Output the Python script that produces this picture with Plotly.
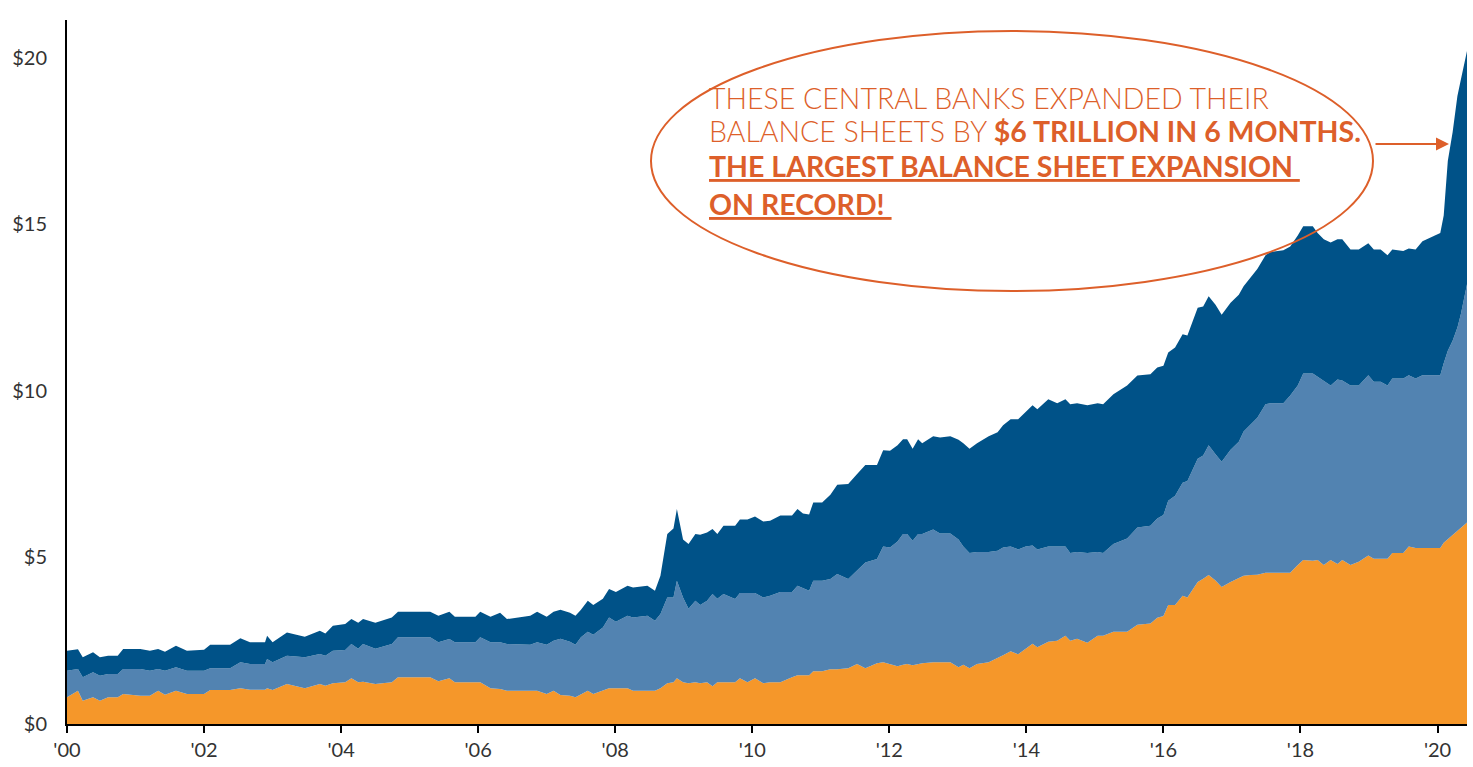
import plotly.graph_objects as go

# Combined central bank balance sheets, trillions of US dollars.
# Each list holds the upper edge of a band (cumulative), sampled at decimal years.
years = [
    2000.00, 2000.16, 2000.23, 2000.38, 2000.48, 2000.60, 2000.74, 2000.82, 2001.07, 2001.21,
    2001.33, 2001.43, 2001.59, 2001.75, 2002.00, 2002.09, 2002.38, 2002.53, 2002.67, 2002.89,
    2002.92, 2003.00, 2003.21, 2003.47, 2003.69, 2003.77, 2003.88, 2004.06, 2004.15, 2004.25,
    2004.32, 2004.50, 2004.74, 2004.83, 2005.30, 2005.42, 2005.58, 2005.66, 2005.96, 2006.03,
    2006.18, 2006.32, 2006.42, 2006.76, 2006.86, 2007.00, 2007.10, 2007.20, 2007.34, 2007.42,
    2007.50, 2007.60, 2007.68, 2007.82, 2007.91, 2008.01, 2008.18, 2008.26, 2008.47, 2008.58,
    2008.66, 2008.76, 2008.85, 2008.90, 2008.99, 2009.07, 2009.17, 2009.24, 2009.34, 2009.42,
    2009.49, 2009.58, 2009.75, 2009.82, 2009.93, 2010.04, 2010.16, 2010.26, 2010.41, 2010.58,
    2010.66, 2010.74, 2010.83, 2010.89, 2011.02, 2011.14, 2011.24, 2011.40, 2011.53, 2011.65,
    2011.82, 2011.91, 2012.01, 2012.12, 2012.20, 2012.26, 2012.34, 2012.42, 2012.48, 2012.64,
    2012.74, 2012.89, 2013.01, 2013.08, 2013.17, 2013.28, 2013.45, 2013.58, 2013.66, 2013.77,
    2013.88, 2013.99, 2014.09, 2014.16, 2014.32, 2014.45, 2014.57, 2014.64, 2014.74, 2014.89,
    2015.04, 2015.12, 2015.27, 2015.47, 2015.62, 2015.81, 2015.91, 2016.00, 2016.07, 2016.17,
    2016.28, 2016.35, 2016.50, 2016.58, 2016.66, 2016.76, 2016.85, 2016.98, 2017.10, 2017.17,
    2017.27, 2017.37, 2017.49, 2017.56, 2017.75, 2017.85, 2017.96, 2018.04, 2018.18, 2018.25,
    2018.34, 2018.44, 2018.54, 2018.61, 2018.73, 2018.85, 2018.99, 2019.07, 2019.17, 2019.27,
    2019.34, 2019.50, 2019.58, 2019.68, 2019.78, 2019.93, 2020.04, 2020.09, 2020.15, 2020.22,
    2020.29, 2020.34, 2020.43,
]

orange_top = [
    0.80, 1.00, 0.70, 0.80, 0.70, 0.80, 0.80, 0.90, 0.85, 0.85,
    1.00, 0.88, 1.00, 0.90, 0.90, 1.02, 1.02, 1.07, 1.03, 1.03,
    1.07, 1.02, 1.20, 1.07, 1.20, 1.15, 1.22, 1.25, 1.37, 1.25,
    1.27, 1.20, 1.25, 1.40, 1.40, 1.28, 1.37, 1.25, 1.25, 1.25,
    1.07, 1.05, 1.00, 1.00, 1.00, 0.90, 1.00, 0.87, 0.85, 0.80,
    0.90, 1.00, 0.90, 1.00, 1.07, 1.07, 1.07, 1.00, 1.00, 1.00,
    1.07, 1.22, 1.25, 1.37, 1.25, 1.22, 1.25, 1.22, 1.25, 1.13,
    1.25, 1.25, 1.25, 1.37, 1.25, 1.37, 1.22, 1.25, 1.25, 1.40,
    1.46, 1.46, 1.46, 1.58, 1.58, 1.64, 1.64, 1.67, 1.80, 1.67,
    1.82, 1.85, 1.80, 1.73, 1.78, 1.80, 1.76, 1.80, 1.82, 1.85,
    1.85, 1.85, 1.70, 1.78, 1.67, 1.80, 1.85, 1.97, 2.06, 2.18,
    2.09, 2.26, 2.41, 2.30, 2.47, 2.50, 2.65, 2.50, 2.56, 2.44,
    2.65, 2.65, 2.77, 2.77, 2.98, 3.02, 3.19, 3.24, 3.57, 3.57,
    3.85, 3.80, 4.26, 4.36, 4.47, 4.31, 4.11, 4.26, 4.38, 4.45,
    4.47, 4.48, 4.54, 4.54, 4.54, 4.54, 4.77, 4.92, 4.90, 4.92,
    4.77, 4.92, 4.80, 4.92, 4.77, 4.87, 5.06, 4.96, 4.96, 4.96,
    5.13, 5.13, 5.33, 5.28, 5.28, 5.28, 5.28, 5.44, 5.55, 5.66,
    5.80, 5.88, 6.05,
]

middle_top = [
    1.60, 1.65, 1.40, 1.55, 1.45, 1.50, 1.50, 1.65, 1.65, 1.60,
    1.65, 1.60, 1.70, 1.60, 1.60, 1.67, 1.67, 1.85, 1.80, 1.80,
    1.95, 1.85, 2.05, 2.00, 2.10, 2.05, 2.20, 2.22, 2.40, 2.26,
    2.40, 2.26, 2.40, 2.60, 2.60, 2.45, 2.55, 2.45, 2.45, 2.60,
    2.45, 2.45, 2.40, 2.38, 2.45, 2.38, 2.50, 2.56, 2.47, 2.38,
    2.60, 2.77, 2.68, 2.90, 3.20, 3.07, 3.25, 3.20, 3.25, 3.10,
    3.30, 3.80, 3.80, 4.30, 3.80, 3.46, 3.70, 3.57, 3.70, 3.90,
    3.76, 3.90, 3.75, 3.93, 3.93, 3.93, 3.80, 3.85, 3.96, 3.96,
    4.15, 4.08, 4.00, 4.30, 4.30, 4.35, 4.50, 4.35, 4.60, 4.85,
    4.95, 5.33, 5.30, 5.48, 5.70, 5.70, 5.50, 5.70, 5.70, 5.84,
    5.72, 5.72, 5.54, 5.33, 5.13, 5.16, 5.16, 5.20, 5.30, 5.33,
    5.24, 5.33, 5.36, 5.24, 5.33, 5.33, 5.33, 5.13, 5.16, 5.13,
    5.16, 5.13, 5.40, 5.57, 5.90, 5.95, 6.17, 6.27, 6.70, 6.85,
    7.24, 7.29, 7.96, 8.06, 8.37, 8.10, 7.87, 8.23, 8.47, 8.78,
    8.98, 9.19, 9.60, 9.63, 9.63, 9.86, 10.16, 10.52, 10.52, 10.42,
    10.31, 10.16, 10.34, 10.31, 10.16, 10.16, 10.47, 10.27, 10.27, 10.16,
    10.37, 10.37, 10.47, 10.37, 10.47, 10.47, 10.47, 10.83, 11.20, 11.50,
    11.90, 12.30, 13.20,
]

total_top = [
    2.20, 2.24, 2.00, 2.15, 2.00, 2.05, 2.05, 2.25, 2.25, 2.20,
    2.25, 2.17, 2.35, 2.20, 2.23, 2.38, 2.38, 2.57, 2.45, 2.45,
    2.65, 2.45, 2.75, 2.62, 2.80, 2.72, 2.95, 3.00, 3.15, 3.04,
    3.15, 3.04, 3.20, 3.37, 3.37, 3.25, 3.37, 3.22, 3.22, 3.37,
    3.22, 3.34, 3.15, 3.25, 3.37, 3.22, 3.37, 3.43, 3.34, 3.25,
    3.43, 3.70, 3.57, 3.76, 4.05, 3.96, 4.15, 4.10, 4.15, 4.00,
    4.45, 5.70, 5.87, 6.45, 5.54, 5.40, 5.70, 5.68, 5.75, 5.85,
    5.70, 5.95, 5.95, 6.14, 6.14, 6.23, 6.08, 6.10, 6.26, 6.26,
    6.45, 6.32, 6.29, 6.65, 6.65, 6.88, 7.18, 7.20, 7.50, 7.77,
    7.77, 8.22, 8.20, 8.37, 8.55, 8.55, 8.26, 8.55, 8.43, 8.64,
    8.60, 8.64, 8.53, 8.43, 8.26, 8.43, 8.64, 8.76, 8.97, 9.15,
    9.15, 9.36, 9.57, 9.45, 9.75, 9.63, 9.75, 9.60, 9.63, 9.57,
    9.63, 9.60, 9.90, 10.16, 10.46, 10.50, 10.70, 10.75, 11.15, 11.30,
    11.70, 11.66, 12.49, 12.53, 12.84, 12.58, 12.28, 12.64, 12.88, 13.14,
    13.40, 13.66, 14.07, 14.17, 14.22, 14.33, 14.66, 14.94, 14.94, 14.74,
    14.55, 14.45, 14.55, 14.55, 14.24, 14.24, 14.43, 14.24, 14.24, 14.07,
    14.24, 14.20, 14.27, 14.24, 14.49, 14.63, 14.74, 15.26, 16.90, 17.76,
    18.85, 19.34, 20.20,
]

tick_years = [2000, 2002, 2004, 2006, 2008, 2010, 2012, 2014, 2016, 2018, 2020]
tick_labels = ["'00", "'02", "'04", "'06", "'08", "'10", "'12", "'14", "'16", "'18", "'20"]
value_ticks = [0, 5, 10, 15, 20]
value_labels = ["$0", "$5", "$10", "$15", "$20"]

callout_lines = [
    "THESE CENTRAL BANKS EXPANDED THEIR",
    "BALANCE SHEETS BY <b>$6 TRILLION IN 6 MONTHS.</b>",
    "<b><u>THE LARGEST BALANCE SHEET EXPANSION </u></b>",
    "<b><u>ON RECORD! </u></b>",
]

ORANGE = "#F5972A"
LIGHT_BLUE = "#5283B1"
DARK_BLUE = "#005288"
ACCENT = "#DD5F2A"

fig = go.Figure()
fig.add_trace(go.Scatter(x=years, y=orange_top, mode="lines", line=dict(width=0),
                         fill="tozeroy", fillcolor=ORANGE, hoverinfo="skip", showlegend=False))
fig.add_trace(go.Scatter(x=years, y=middle_top, mode="lines", line=dict(width=0),
                         fill="tonexty", fillcolor=LIGHT_BLUE, hoverinfo="skip", showlegend=False))
fig.add_trace(go.Scatter(x=years, y=total_top, mode="lines", line=dict(width=0),
                         fill="tonexty", fillcolor=DARK_BLUE, hoverinfo="skip", showlegend=False))

# plot area geometry in pixels (used for paper-coordinate placement of the callout)
W, H = 1473, 767
L, R, T, B = 67, 6, 20, 38
pw, ph = W - L - R, H - T - B


def px(x):
    return (x - L) / pw


def py(y):
    return (H - B - y) / ph


# callout ellipse
fig.add_shape(type="circle", xref="paper", yref="paper",
              x0=px(651), x1=px(1373), y0=py(293), y1=py(31),
              line=dict(color=ACCENT, width=2), fillcolor="rgba(0,0,0,0)", layer="above")

line_y = [99, 132, 167, 205]
for txt, yy in zip(callout_lines, line_y):
    fig.add_annotation(text=txt, xref="paper", yref="paper", x=px(707), y=py(yy),
                       xanchor="left", yanchor="middle", showarrow=False,
                       font=dict(family="Lato", size=28.5, color=ACCENT, weight=300))

# arrow pointing at the 2020 surge
fig.add_annotation(xref="paper", yref="paper", x=px(1449), y=py(145),
                   ax=-75, ay=0, text="", showarrow=True, arrowhead=2, arrowsize=1.3,
                   arrowwidth=2, arrowcolor=ACCENT)

fig.update_layout(
    width=W, height=H,
    margin=dict(l=L, r=R, t=T, b=B),
    paper_bgcolor="white", plot_bgcolor="white",
    xaxis=dict(range=[2000, 2020.43], tickvals=tick_years, ticktext=tick_labels,
               showgrid=False, zeroline=False, showline=True, linecolor="black", linewidth=2,
               ticks="outside", ticklen=7, tickwidth=2, tickcolor="black",
               tickfont=dict(family="Lato", size=20, color="#333333")),
    yaxis=dict(range=[0, 21.13], tickvals=value_ticks, ticktext=value_labels,
               showgrid=False, zeroline=False, showline=True, linecolor="black", linewidth=2,
               ticks="", ticklabelstandoff=14,
               tickfont=dict(family="Lato", size=20, color="#333333")),
)

fig.write_html("out.html")
